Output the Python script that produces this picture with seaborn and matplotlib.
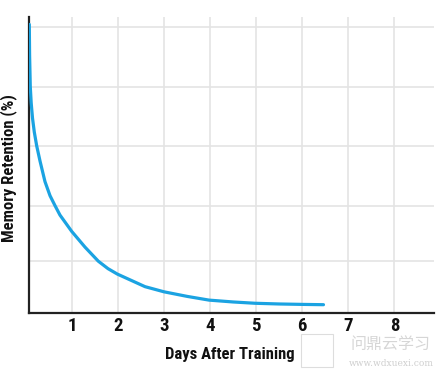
import matplotlib
matplotlib.use("Agg")
import matplotlib.pyplot as plt
from matplotlib import font_manager
import seaborn as sns
import pandas as pd

# Data (days after training vs. memory retention %)
days = [0.0715, 0.078, 0.093, 0.113, 0.141, 0.180, 0.232, 0.304, 0.412,
        0.521, 0.630, 0.738, 0.993, 1.282, 1.570, 1.780, 1.983, 2.585,
        2.997, 3.5, 3.975, 4.5, 4.974, 5.5, 6.02, 6.46]
retention = [100.8, 90.1, 79.0, 73.3, 68.1, 63.2, 58.4, 53.1, 45.9,
             41.0, 37.5, 34.2, 28.5, 23.0, 18.1, 15.5, 13.6, 9.2,
             7.4, 5.8, 4.5, 3.85, 3.4, 3.15, 3.0, 2.9]
x_ticks = [1, 2, 3, 4, 5, 6, 7, 8]
y_grid = [18.1, 37.4, 58.4, 79.0, 100.0]
x_label = "Days After Training"
y_label = "Memory Retention (%)"

sns.set_theme(style="white")
available = {f.name for f in font_manager.fontManager.ttflist}
prefs = ["Liberation Sans Narrow", "Roboto Condensed", "Open Sans Condensed",
         "DejaVu Sans"]
main_font = next((p for p in prefs if p in available), "DejaVu Sans")
fam = [main_font, "DejaVu Sans"]
plt.rcParams["font.family"] = fam

fig = plt.figure(figsize=(4.46, 3.72), dpi=100)
ax = fig.add_axes([29 / 446, 1 - 313 / 372, (434 - 29) / 446, (313 - 16.7) / 372])

df = pd.DataFrame({"days": days, "retention": retention})
sns.lineplot(data=df, x="days", y="retention", ax=ax, color="#1ba3e2",
             linewidth=2.3, zorder=3)

ax.set_xlim(0.065, 8.86)
ax.set_ylim(0, 103.5)
ax.set_xticks(x_ticks)
ax.set_xticklabels([str(t) for t in x_ticks], fontsize=13.5, fontweight="black",
                   family=fam, fontstretch="condensed", color="#111111")
ax.set_yticks(y_grid)
ax.set_yticklabels([])
ax.tick_params(axis="both", length=0, pad=3)
ax.grid(True, color="#e4e4e4", linewidth=1.2)
ax.set_axisbelow(True)

for s in ["top", "right"]:
    ax.spines[s].set_visible(False)
for s in ["left", "bottom"]:
    ax.spines[s].set_color("#222222")
    ax.spines[s].set_linewidth(1.6)

ax.set_xlabel("")
ax.set_ylabel("")
fig.text(230 / 446, 1 - 355 / 372, x_label, ha="center", va="center",
         fontsize=12, fontweight="black", family=fam, fontstretch="condensed",
         color="#111111")
fig.text(9 / 446, 1 - 168 / 372, y_label, ha="center", va="center",
         rotation=90, fontsize=12, fontweight="black", family=fam,
         fontstretch="condensed", color="#111111")

# faint watermark
fig.patches.append(plt.Rectangle((301 / 446, 1 - 367 / 372), 32 / 446, 33 / 372,
                                 transform=fig.transFigure, fill=False,
                                 edgecolor="#dddddd", linewidth=0.8))
fig.text(391 / 446, 1 - 344 / 372, "问鼎云学习", fontsize=11.5, color="#d6d6d6",
         ha="center", va="center", family=["Noto Sans CJK SC", "DejaVu Sans"])
fig.text(391 / 446, 1 - 363 / 372, "www.wdxuexi.com", fontsize=6.5, color="#cfcfcf",
         ha="center", va="center", family=["DejaVu Serif"])

fig.savefig("out.png", dpi=100)
